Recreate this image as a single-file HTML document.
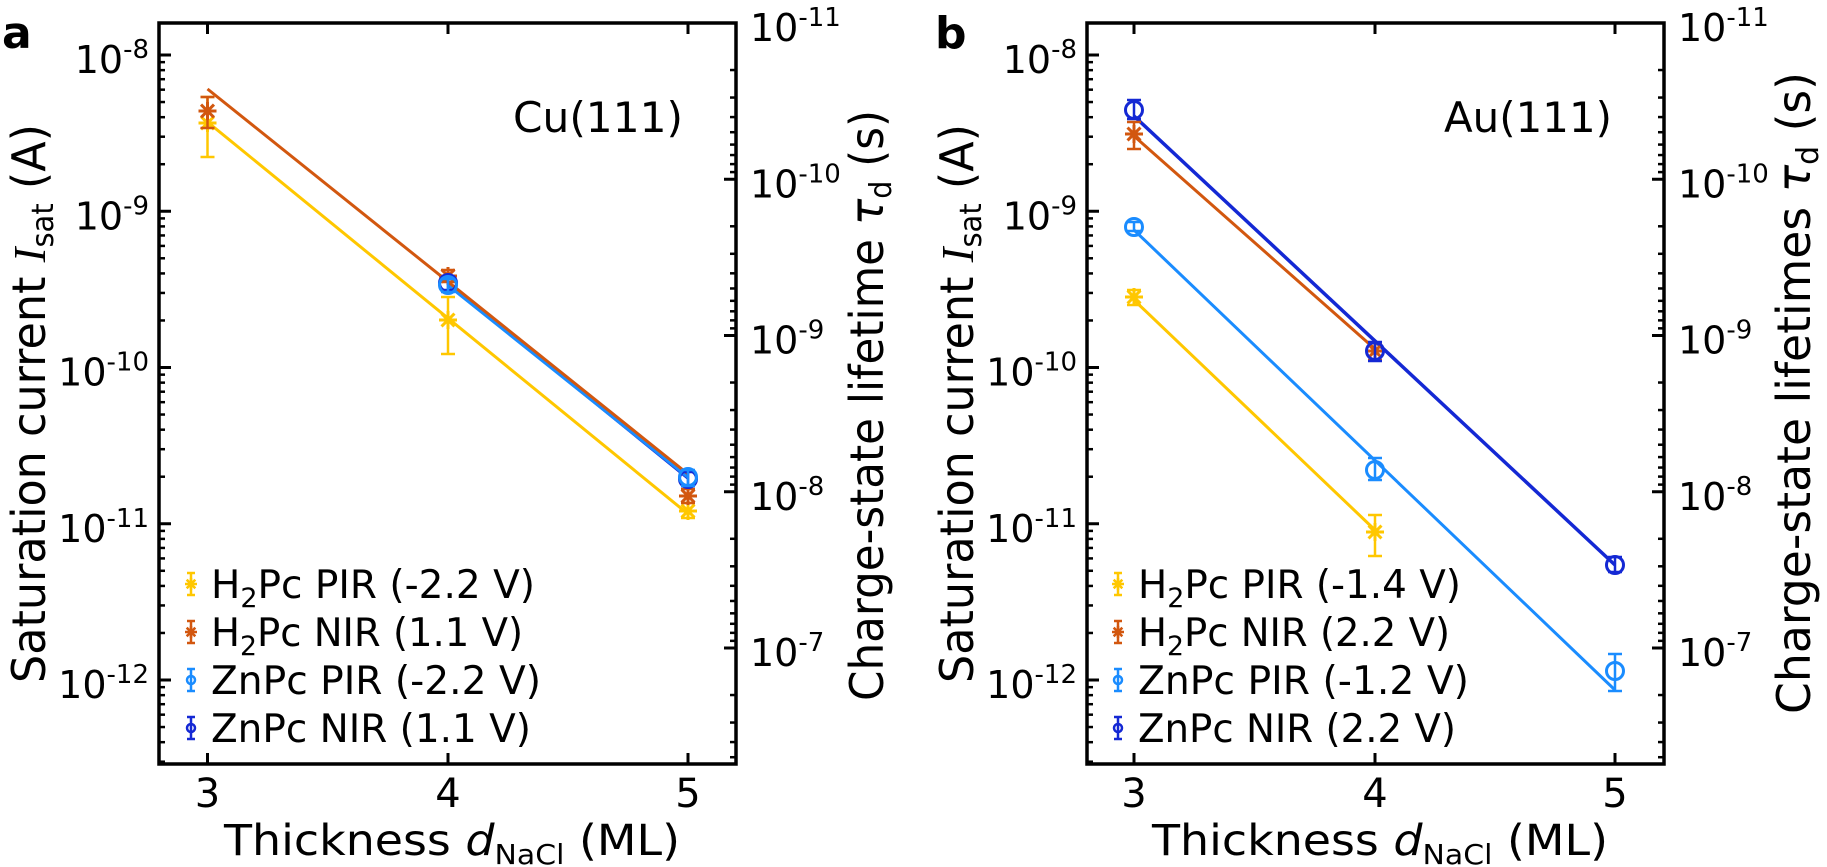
<!DOCTYPE html>
<html><head><meta charset="utf-8"><style>
html,body{margin:0;padding:0;background:#fff;}
svg{display:block;font-family:"DejaVu Sans","Liberation Sans",sans-serif;}
</style></head><body>
<svg id="s" width="1827" height="867" viewBox="0 0 1827 867" xmlns="http://www.w3.org/2000/svg">
<rect width="1827" height="867" fill="#fff"/>
<g id="g"></g>
<text x="2" y="48" font-size="44" font-weight="bold">a</text>
<text x="935" y="48" font-size="44" font-weight="bold">b</text>
<text x="513" y="132" font-size="42" textLength="170" lengthAdjust="spacingAndGlyphs">Cu(111)</text>
<text x="1444" y="132" font-size="42" textLength="168" lengthAdjust="spacingAndGlyphs">Au(111)</text>
<text transform="translate(45,683) rotate(-90)" font-size="46" textLength="559" lengthAdjust="spacingAndGlyphs">Saturation current <tspan font-family="Liberation Serif,serif" font-style="italic">I</tspan><tspan font-size="30" dy="8">sat</tspan><tspan dy="-8"> (A)</tspan></text>
<text transform="translate(973,683) rotate(-90)" font-size="46" textLength="559" lengthAdjust="spacingAndGlyphs">Saturation current <tspan font-family="Liberation Serif,serif" font-style="italic">I</tspan><tspan font-size="30" dy="8">sat</tspan><tspan dy="-8"> (A)</tspan></text>
<text transform="translate(883,701) rotate(-90)" font-size="46" textLength="591" lengthAdjust="spacingAndGlyphs">Charge-state lifetime <tspan font-style="italic">τ</tspan><tspan font-size="30" dy="8">d</tspan><tspan dy="-8"> (s)</tspan></text>
<text transform="translate(1810,714) rotate(-90)" font-size="46" textLength="642" lengthAdjust="spacingAndGlyphs">Charge-state lifetimes <tspan font-style="italic">τ</tspan><tspan font-size="30" dy="8">d</tspan><tspan dy="-8"> (s)</tspan></text>
<text x="224" y="855" font-size="43" textLength="456" lengthAdjust="spacingAndGlyphs">Thickness <tspan font-style="italic">d</tspan><tspan font-size="28" dy="9">NaCl</tspan><tspan dy="-9"> (ML)</tspan></text>
<text x="1152" y="855" font-size="43" textLength="456" lengthAdjust="spacingAndGlyphs">Thickness <tspan font-style="italic">d</tspan><tspan font-size="28" dy="9">NaCl</tspan><tspan dy="-9"> (ML)</tspan></text>
</svg>
<script>
(function(){
var NS="http://www.w3.org/2000/svg",g=document.getElementById("g");
function el(t,a,txt){var e=document.createElementNS(NS,t);for(var k in a)e.setAttribute(k,a[k]);if(txt!=null)e.textContent=txt;g.appendChild(e);return e;}
function line(x1,y1,x2,y2,c,w){el("line",{x1:x1,y1:y1,x2:x2,y2:y2,stroke:c,"stroke-width":w||3});}
var D=156.25,TOP=23,BOT=764;
function Y(L){return 55+D*(-8-L);}
function R(L){return 23+D*(L+11);}
var Ycol="#ffc700",O="#d2570f",LB="#1a8cff",DB="#1428d4";
function lab(xr,y,exp,anchorEnd){
 var t=el("text",{x:xr,y:y,"font-size":38,"text-anchor":anchorEnd?"end":"start"});
 var a=document.createElementNS(NS,"tspan");a.textContent="10";t.appendChild(a);
 var b=document.createElementNS(NS,"tspan");b.setAttribute("font-size","26");b.setAttribute("dy","-15");b.textContent=exp;t.appendChild(b);
}
function panel(L0,Rx,xs,lg){
 el("rect",{x:L0,y:TOP,width:Rx-L0,height:BOT-TOP,fill:"none",stroke:"#000","stroke-width":3.5});
 xs.forEach(function(x,i){line(x,TOP,x,TOP+11,"#000",3);line(x,BOT,x,BOT-11,"#000",3);
  el("text",{x:x,y:807,"font-size":40,"text-anchor":"middle"},String(3+i));});
 for(var n=-13;n<=-8;n++){var y0=Y(n);
  if(y0>=TOP&&y0<=BOT){line(L0,y0,L0+12,y0,"#000",3);lab(L0-10,y0+18,String(n),true);}
  for(var k=2;k<=9;k++){var y=y0-D*Math.log10(k);if(y>TOP+2&&y<BOT-2)line(L0,y,L0+6,y,"#000",2.5);}}
 for(var n=-11;n<=-6;n++){var y0=R(n);
  if(y0>=TOP-1&&y0<=BOT){line(Rx,y0,Rx-12,y0,"#000",3);lab(Rx+14,y0+18,String(n),false);}
  for(var k=2;k<=9;k++){var y=y0+D*Math.log10(k);if(y>TOP+2&&y<BOT-2)line(Rx,y,Rx-6,y,"#000",2.5);}}
 var labs=lg.labels,cols=[Ycol,O,LB,DB],ys=[584,632,680,728],mx=lg.mx;
 for(var i=0;i<4;i++){var y=ys[i],c=cols[i];
  line(mx,y-11,mx,y+11,c,2.5);line(mx-4,y-11,mx+4,y-11,c,2.5);line(mx-4,y+11,mx+4,y+11,c,2.5);
  if(i<2)star(mx,y,6,c,2.5);else el("circle",{cx:mx,cy:y,r:4,fill:"none",stroke:c,"stroke-width":2.5});
  var t=el("text",{x:mx+20,y:y+14,"font-size":39,textLength:lg.w[i],lengthAdjust:"spacingAndGlyphs"});
  var p=labs[i];
  if(i<2){var a=document.createElementNS(NS,"tspan");a.textContent="H";t.appendChild(a);
   var b=document.createElementNS(NS,"tspan");b.setAttribute("font-size","27");b.setAttribute("dy","9");b.textContent="2";t.appendChild(b);
   var cc=document.createElementNS(NS,"tspan");cc.setAttribute("dy","-9");cc.textContent="Pc "+p;t.appendChild(cc);}
  else t.textContent="ZnPc "+p;
 }
}
function star(x,y,r,c,w){w=w||3;line(x-r,y,x+r,y,c,w);line(x,y-r,x,y+r,c,w);var d=r*0.72;line(x-d,y-d,x+d,y+d,c,w);line(x-d,y+d,x+d,y-d,c,w);}
function eb(x,y1,y2,c){line(x,y1,x,y2,c,2.5);line(x-7,y1,x+7,y1,c,2.5);line(x-7,y2,x+7,y2,c,2.5);}
function pt(x,y,y1,y2,c,type){eb(x,y1,y2,c);if(type=="s")star(x,y,9,c,3);else el("circle",{cx:x,cy:y,r:8.5,fill:"none",stroke:c,"stroke-width":3});}
var xa=[207.5,448,688],xb=[1134,1375,1615];
panel(159,736,xa,{mx:191,w:[324,312,330,320],labels:["PIR (-2.2 V)","NIR (1.1 V)","PIR (-2.2 V)","NIR (1.1 V)"]});
panel(1087,1664,xb,{mx:1118,w:[323,312,331,318],labels:["PIR (-1.4 V)","NIR (2.2 V)","PIR (-1.2 V)","NIR (2.2 V)"]});
line(xa[1],283,xa[2],478,DB,3.5);
line(xa[1],285,xa[2],477,LB,3.5);
line(xa[0],122,xa[2],514,Ycol,3);
line(xa[0],89,xa[2],474,O,3);
pt(xa[0],123,97,157,Ycol,"s");pt(xa[1],320,297,354,Ycol,"s");pt(xa[2],511,503,518,Ycol,"s");
pt(xa[0],111,97,128,O,"s");pt(xa[1],276,270,282,O,"s");pt(xa[2],496,489,503,O,"s");
pt(xa[1],283,277,290,DB,"o");pt(xa[2],479,472,486,DB,"o");
pt(xa[1],285,279,292,LB,"o");pt(xa[2],477,470,486,LB,"o");
line(xb[0],300,xb[1],530,Ycol,3);
line(xb[0],230,xb[2],690,LB,3);
line(xb[0],136,xb[1],349,O,3);
line(xb[0],116,xb[2],565,DB,3.5);
pt(xb[0],297,290,305,Ycol,"s");pt(xb[1],532,515,556,Ycol,"s");
pt(xb[0],134,122,149,O,"s");pt(xb[1],351,343,360,O,"s");
pt(xb[0],227,222,231,LB,"o");pt(xb[1],470,458,480,LB,"o");pt(xb[2],671,654,691,LB,"o");
pt(xb[0],110,100,119,DB,"o");pt(xb[1],351,342,361,DB,"o");pt(xb[2],565,557,572,DB,"o");
})();
</script>
</body></html>
